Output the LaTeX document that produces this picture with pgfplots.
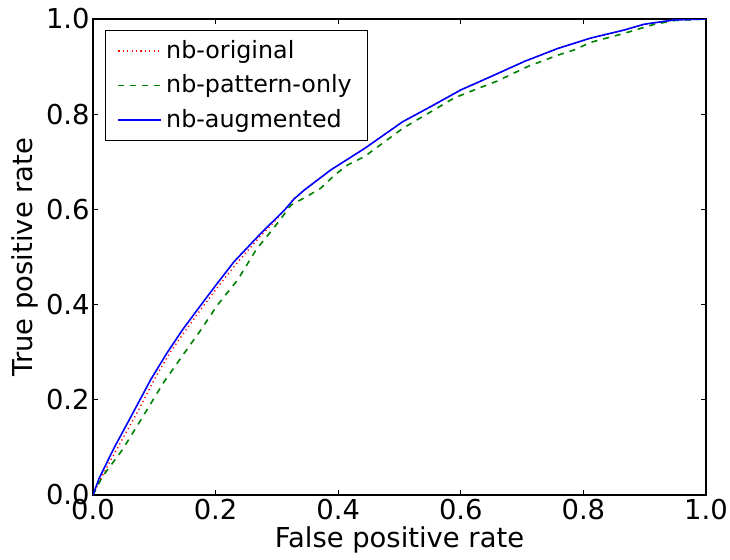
\documentclass[border=0pt]{standalone}
\usepackage{fontspec}
\setmainfont{DejaVu Sans}
\usepackage{pgfplots}
\pgfplotsset{compat=1.18}
\begin{document}
\begin{tikzpicture}
\path[use as bounding box] (-46.5pt,-32pt) rectangle (318.5pt,247.5pt);
\begin{axis}[
  at={(0,0)}, anchor=south west,
  scale only axis, width=306.5pt, height=238pt,
  xmin=0, xmax=1, ymin=0, ymax=1,
  xtick={0,0.2,...,1.0}, ytick={0,0.2,...,1.0},
  xticklabels={0.0,0.2,0.4,0.6,0.8,1.0},
  yticklabels={0.0,0.2,0.4,0.6,0.8,1.0},
  xtick pos=both, ytick pos=both, tick align=inside,
  major tick length=2.5pt,
  every tick/.style={black, line width=0.5pt},
  axis line style={black, line width=0.6pt},
  /pgf/number format/assume math mode=true,
  tick label style={font=\fontsize{13.7}{16}\selectfont},
  xticklabel style={inner sep=1pt, yshift=-1pt},
  yticklabel style={inner sep=1.5pt},
  xlabel={False positive rate}, ylabel={True positive rate},
  label style={font=\fontsize{13.7}{16}\selectfont},
  xlabel style={at={(axis description cs:0.5,-0.0945)}, anchor=center},
  ylabel style={at={(axis description cs:-0.111,0.5)}, anchor=center},
  legend style={at={(rel axis cs:0,1)}, anchor=north west, xshift=6pt, yshift=-5.5pt,
    draw=black, line width=0.6pt, font=\fontsize{11.9}{14}\selectfont,
    inner xsep=6pt, inner ysep=3pt, row sep=2.6pt},
  legend cell align=left,
  legend image code/.code={\draw[#1] (0pt,0pt) -- (16.5pt,0pt); \path (0pt,0pt) -- (21.5pt,0pt);},
]
\addplot[red, line width=0.7pt, dash pattern=on 0.6pt off 1.6pt] coordinates {
(0,0) (0.01,0.028) (0.02,0.052) (0.034,0.085) (0.05,0.122) (0.075,0.18) (0.1,0.243)
(0.125,0.298) (0.15,0.344) (0.176,0.39) (0.2,0.431) (0.23,0.48) (0.25,0.51) (0.274,0.545)
(0.3,0.58) (0.312,0.598) (0.328,0.622) (0.345,0.641) (0.388,0.683) (0.443,0.728) (0.505,0.784)
(0.551,0.816) (0.6,0.851) (0.649,0.879) (0.704,0.911) (0.758,0.938) (0.812,0.96) (0.867,0.977)
(0.899,0.989) (0.948,0.998) (1,1)};
\addlegendentry{nb-original}
\addplot[green!50!black, line width=0.8pt, dash pattern=on 3pt off 3pt] coordinates {
(0,0) (0.015,0.038) (0.048,0.095) (0.08,0.162) (0.116,0.238) (0.15,0.30) (0.176,0.347)
(0.203,0.399) (0.236,0.452) (0.266,0.515) (0.301,0.571) (0.323,0.609) (0.35,0.628)
(0.372,0.645) (0.394,0.672) (0.415,0.693) (0.443,0.711) (0.505,0.770) (0.551,0.805)
(0.589,0.834) (0.622,0.851) (0.66,0.870) (0.709,0.9) (0.758,0.924) (0.785,0.935)
(0.812,0.951) (0.867,0.97) (0.916,0.989) (0.95,0.997) (1,1)};
\addlegendentry{nb-pattern-only}
\addplot[blue, line width=0.8pt] coordinates {
(0,0) (0.01,0.035) (0.034,0.098) (0.06,0.16) (0.094,0.242) (0.12,0.297) (0.146,0.347)
(0.176,0.399) (0.2,0.44) (0.23,0.49) (0.274,0.55) (0.312,0.598) (0.328,0.622) (0.345,0.641)
(0.388,0.683) (0.443,0.728) (0.505,0.784) (0.551,0.816) (0.6,0.851) (0.649,0.879)
(0.704,0.911) (0.758,0.938) (0.812,0.96) (0.867,0.977) (0.899,0.989) (0.948,0.998) (1,1)};
\addlegendentry{nb-augmented}
\end{axis}
\end{tikzpicture}
\end{document}
